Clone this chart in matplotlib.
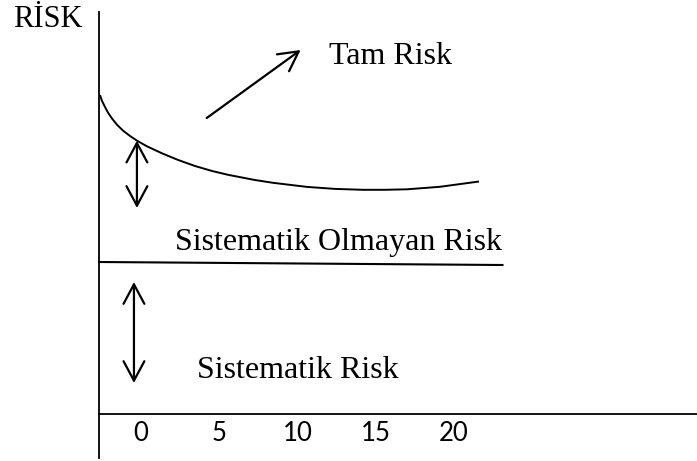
import matplotlib
matplotlib.use('Agg')
import matplotlib.pyplot as plt

# values (x: portfolio size, y: risk level)
total_x = [-2.62, -2.49, -2.30, -2.11, -1.85, -1.53, -1.15, -0.70, -0.26, 0.38, 1.34, 2.36,
           3.45, 4.54, 5.56, 7.28, 8.43, 10.61, 12.40, 14.19, 15.59, 17.0, 19.1, 21.6]
total_y = [31.9, 31.3, 30.7, 30.14, 29.54, 28.92, 28.34, 27.8, 27.34, 26.77, 26.07, 25.41,
           24.8, 24.3, 23.92, 23.4, 23.12, 22.71, 22.51, 22.42, 22.42, 22.47, 22.72, 23.25]

unsys_x = [-2.68, 23.1]
unsys_y = [15.2, 14.9]

x_ticks = [0, 5, 10, 15, 20]
tick_labels = ['0', '5', '10', '15', '20']

serif = ['Liberation Serif', 'DejaVu Serif']
sans = ['Lato', 'DejaVu Sans']

fig = plt.figure(figsize=(6.97, 4.61), dpi=100)
ax = fig.add_axes([0, 0, 1, 1])
ax.set_xlim(-9.01, 35.53)
ax.set_ylim(-4.7, 41.4)

for s in ['top', 'right']:
    ax.spines[s].set_visible(False)
ax.spines['left'].set_position(('data', -2.68))
ax.spines['left'].set_bounds(-4.4, 40.2)
ax.spines['bottom'].set_position(('data', 0))
ax.spines['bottom'].set_bounds(-2.68, 35.53)
for s in ['left', 'bottom']:
    ax.spines[s].set_linewidth(1.3)

ax.set_yticks([])
ax.set_xticks(x_ticks)
ax.set_xticklabels(tick_labels, fontfamily=sans, fontsize=18.5)
ax.tick_params(axis='x', length=0, pad=5)

ax.plot(total_x, total_y, color='black', lw=1.4, solid_capstyle='butt', solid_joinstyle='round')
ax.plot(unsys_x, unsys_y, color='black', lw=1.5)

head = 'head_length=1.4,head_width=0.75'
arr = dict(arrowstyle='<->,' + head, color='black', lw=1.6, shrinkA=0, shrinkB=0)
ax.annotate('', xy=(-0.26, 27.34), xytext=(-0.26, 20.6), arrowprops=arr)
ax.annotate('', xy=(-0.45, 13.2), xytext=(-0.45, 3.1), arrowprops=arr)
ax.annotate('', xy=(10.2, 36.4), xytext=(4.2, 29.6),
            arrowprops=dict(arrowstyle='->,' + head, color='black', lw=1.6,
                            shrinkA=0, shrinkB=0))

ax.text(-8.2, 38.7, 'RİSK', fontfamily=serif, fontsize=22, va='baseline')
ax.text(12.0, 35.0, 'Tam Risk', fontfamily=serif, fontsize=23, va='baseline')
ax.text(2.2, 16.4, 'Sistematik Olmayan Risk', fontfamily=serif, fontsize=23, va='baseline')
ax.text(3.6, 3.6, 'Sistematik Risk', fontfamily=serif, fontsize=23, va='baseline')

fig.savefig('out.png', dpi=100)
